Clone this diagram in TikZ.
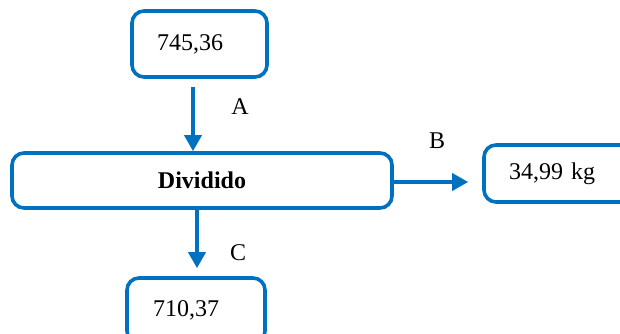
\documentclass[tikz,border=0pt]{standalone}
\usepackage{fontspec}
\setmainfont{Liberation Serif}
\usetikzlibrary{arrows.meta,calc}
\definecolor{flowblue}{HTML}{0070C0}
\tikzset{
  box/.style={draw=flowblue, line width=3.6pt, rounded corners=12pt, fill=white},
  leftbox/.style={box, align=left, inner ysep=0pt},
  arr/.style={draw=flowblue, line width=3.6pt, -{Triangle[length=16pt,width=17pt]}},
  lbl/.style={inner sep=0pt}
}
\begin{document}
\begin{tikzpicture}[x=1pt,y=-1pt,font=\fontsize{24}{28}\selectfont]
\useasboundingbox (0,0) rectangle (620,334);
\clip (0,0) rectangle (620,334);
\node[leftbox, inner xsep=25pt, text width=85pt, minimum height=66pt] (top) at (199.5,44) {745,36};
\node[box, minimum width=380pt, minimum height=55pt] (main) at (202,180.5) {\bfseries Dividido};
\node[leftbox, inner xsep=25pt, text width=110pt, minimum height=57pt] (right) at (564,173.5) {34,99 kg};
\node[leftbox, inner xsep=26pt, text width=86pt, minimum height=65pt] (bot) at (196,310.5) {710,37};
\coordinate (aS) at ($(top.south)+(-6.5,8)$);
\draw[arr] (aS) -- (aS |- main.north);
\coordinate (bS) at ($(main.east)+(0,1.5)$);
\draw[arr] (bS) -- ($(bS -| right.west)+(-14,0)$);
\coordinate (cS) at ($(main.south)+(-5,0)$);
\draw[arr] (cS) -- ($(cS |- bot.north)+(0,-8)$);
\node[lbl] (la) at (240,107) {A};
\node[lbl] (lb) at (437,141) {B};
\node[lbl] (lc) at (238,253) {C};
\end{tikzpicture}
\end{document}
